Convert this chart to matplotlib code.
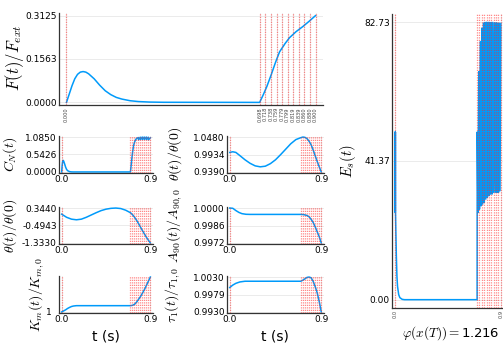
import matplotlib
matplotlib.use('Agg')
import matplotlib.pyplot as plt

plt.rcParams['mathtext.fontset'] = 'cm'
plt.rcParams['font.family'] = 'DejaVu Sans'

# switching times (red dotted lines)
switch_t = [0.0, 0.698, 0.718, 0.738, 0.759, 0.779, 0.799, 0.819, 0.839, 0.860, 0.880, 0.900]

# F(t)/F_ext
f_t = [0, 0.01, 0.02, 0.03, 0.04, 0.05, 0.06, 0.07, 0.08, 0.10, 0.12, 0.14, 0.16, 0.18, 0.20,
       0.23, 0.26, 0.30, 0.35, 0.698, 0.71, 0.724, 0.74, 0.755, 0.77, 0.79, 0.806, 0.83, 0.854,
       0.878, 0.9]
f_val = [0, 0.03, 0.06, 0.085, 0.101, 0.109, 0.111, 0.109, 0.103, 0.085, 0.062, 0.042, 0.028,
         0.018, 0.012, 0.006, 0.003, 0.0012, 0.0004, 0, 0.025, 0.057, 0.10, 0.143, 0.182, 0.212,
         0.233, 0.255, 0.273, 0.293, 0.3125]

# C_N(t)
cn_t = [0, 0.005, 0.01, 0.015, 0.02, 0.03, 0.04, 0.05, 0.06, 0.08, 0.10, 0.12, 0.698, 0.705,
        0.71, 0.72, 0.73, 0.74, 0.75, 0.76, 0.778, 0.780, 0.798, 0.800, 0.818, 0.820, 0.838,
        0.840, 0.859, 0.861, 0.879, 0.881, 0.9]
cn_val = [0, 0.2, 0.33, 0.36, 0.34, 0.25, 0.15, 0.08, 0.04, 0.01, 0.002, 0, 0, 0.2, 0.35, 0.62,
          0.82, 0.93, 1.0, 1.04, 1.07, 1.0, 1.08, 1.01, 1.085, 1.01, 1.085, 1.01, 1.085, 1.01,
          1.08, 1.0, 1.06]

# theta(t)/theta(0)
th_t = [0, 0.03, 0.06, 0.1, 0.15, 0.2, 0.25, 0.3, 0.35, 0.4, 0.45, 0.5, 0.55, 0.6, 0.65, 0.698,
        0.72, 0.74, 0.76, 0.78, 0.8, 0.82, 0.84, 0.86, 0.88, 0.9]
th_val = [1.0, 1.002, 1.0, 0.99, 0.977, 0.966, 0.958, 0.955, 0.957, 0.965, 0.977, 0.993, 1.01,
          1.027, 1.04, 1.046, 1.048, 1.047, 1.043, 1.035, 1.024, 1.008, 0.99, 0.972, 0.955, 0.939]

# second row, left
thd_t = [0, 0.05, 0.1, 0.15, 0.2, 0.25, 0.3, 0.35, 0.4, 0.45, 0.5, 0.55, 0.6, 0.65, 0.698, 0.72,
         0.74, 0.76, 0.78, 0.8, 0.82, 0.84, 0.86, 0.88, 0.9]
thd_val = [0.05, -0.1, -0.19, -0.22, -0.19, -0.1, 0.01, 0.12, 0.22, 0.29, 0.33, 0.344, 0.32,
           0.24, 0.12, 0.02, -0.1, -0.24, -0.4, -0.57, -0.74, -0.9, -1.06, -1.2, -1.333]

# A_90(t)/A_90,0
a_t = [0, 0.03, 0.06, 0.09, 0.12, 0.16, 0.2, 0.698, 0.72, 0.74, 0.76, 0.78, 0.8, 0.82, 0.84,
       0.86, 0.88, 0.9]
a_val = [1.0, 0.99998, 0.9998, 0.99965, 0.99955, 0.9995, 0.99949, 0.99949, 0.99948, 0.99945,
         0.9994, 0.9993, 0.9991, 0.99885, 0.9985, 0.9981, 0.9977, 0.9972]

# K_m(t)/K_m,0
k_t = [0, 0.02, 0.04, 0.06, 0.08, 0.1, 0.12, 0.15, 0.698, 0.72, 0.74, 0.76, 0.78, 0.8, 0.82,
       0.84, 0.86, 0.88, 0.9]
k_val = [1.0, 1.0015, 1.003, 1.005, 1.0065, 1.0078, 1.0085, 1.009, 1.009, 1.0095, 1.011, 1.014,
         1.018, 1.022, 1.027, 1.032, 1.038, 1.044, 1.05]

# tau_1(t)/tau_1,0
tau_t = [0, 0.03, 0.06, 0.1, 0.15, 0.698, 0.72, 0.74, 0.76, 0.78, 0.8, 0.82, 0.84, 0.86, 0.88, 0.9]
tau_val = [1.0, 1.0007, 1.0012, 1.0016, 1.0018, 1.0018, 1.0021, 1.0025, 1.0029, 1.003, 1.0028,
           1.0018, 1.0003, 0.9985, 0.996, 0.993]

# E_s(t)
es_t = [0, 0.001, 0.002, 0.003, 0.006, 0.01, 0.015, 0.02, 0.03, 0.04, 0.06, 0.08, 0.698, 0.699,
        0.705, 0.712, 0.718, 0.725, 0.732, 0.738, 0.745, 0.752, 0.759, 0.765, 0.772, 0.779, 0.785,
        0.792, 0.799, 0.805, 0.812, 0.819, 0.825, 0.832, 0.839, 0.846, 0.853, 0.860, 0.866, 0.873,
        0.880, 0.886, 0.893, 0.900]
es_val = [50, 26, 50, 26, 20, 13, 7, 4, 1.5, 0.6, 0.1, 0, 0, 50, 26, 68, 27, 77, 28, 81, 28.5,
          82.5, 29, 82.7, 30, 82.73, 30.5, 82.73, 31, 82.7, 31.5, 82.7, 31.5, 82.7, 32, 82.6, 32,
          82.6, 32, 82.5, 32, 82.5, 32.5, 82.4]

W, H = 503, 346
fig = plt.figure(figsize=(W / 100, H / 100), dpi=100)

blue = '#009AFA'
tick_fs = 6.5


def add_ax(x0, y0, x1, y1):
    return fig.add_axes([x0 / W, 1 - y1 / H, (x1 - x0) / W, (y1 - y0) / H])


def panel(box, tt, vals, yticks, ylabels, ylim, xticks, xlabels, small_x=False, ypad=1.5):
    ax = add_ax(*box)
    ax.plot(tt, vals, color=blue, lw=1.1, zorder=2)
    for s in switch_t:
        ax.axvline(s, color='#ff2a2a', lw=0.9, alpha=0.55, linestyle=(0, (1, 1)), zorder=3)
    pad = 0.03 * (ylim[1] - ylim[0])
    ax.set_ylim(ylim[0] - pad, ylim[1] + pad)
    ax.set_xlim(-0.027, 0.927)
    ax.set_yticks(yticks)
    ax.set_yticklabels(ylabels, fontsize=tick_fs)
    ax.set_xticks(xticks)
    if small_x:
        ax.set_xticklabels(xlabels, fontsize=3.6, rotation=90, color='#444444')
    else:
        ax.set_xticklabels(xlabels, fontsize=tick_fs)
    ax.tick_params(length=0, pad=1.5)
    ax.tick_params(axis='y', pad=ypad)
    ax.grid(True, color='#e8e8e8', lw=0.6, zorder=0)
    for side in ['top', 'right']:
        ax.spines[side].set_visible(False)
    for side in ['left', 'bottom']:
        ax.spines[side].set_color('#333333')
        ax.spines[side].set_linewidth(0.9)
    return ax


# top panel
panel((59, 13, 323, 105), f_t, f_val, [0, 0.15625, 0.3125], ['0.0000', '0.1563', '0.3125'],
      (0, 0.3125), switch_t, ['%.3f' % s for s in switch_t], small_x=True)

# small panels
x01 = [0, 0.9]
x01l = ['0.0', '0.9']
panel((59, 136, 153, 173), cn_t, cn_val, [0, 0.5426, 1.085], ['0.0000', '0.5426', '1.0850'],
      (0, 1.085), x01, x01l)
panel((227, 136, 324, 173), th_t, th_val, [0.939, 0.9934, 1.048], ['0.9390', '0.9934', '1.0480'],
      (0.939, 1.048), x01, x01l)
panel((59, 207, 153, 244), thd_t, thd_val, [-1.333, -0.4943, 0.344], ['-1.3330', '-0.4943', '0.3440'],
      (-1.333, 0.344), x01, x01l)
panel((227, 207, 324, 244), a_t, a_val, [0.9972, 0.9986, 1.0], ['0.9972', '0.9986', '1.0000'],
      (0.9972, 1.0), x01, x01l)
panel((59, 276, 153, 313), k_t, k_val, [1.0], ['1'], (1.0, 1.05), x01, x01l, ypad=5)
panel((227, 276, 324, 313), tau_t, tau_val, [0.993, 0.9979, 1.003], ['0.9930', '0.9979', '1.0030'],
      (0.993, 1.003), x01, x01l)

# right panel
panel((392, 14, 504, 308), es_t, es_val, [0, 41.365, 82.73], ['0.00', '41.37', '82.73'],
      (0, 82.73), x01, x01l, small_x=True)

# y labels
lab_fs = 10
fig.text(15 / W, 1 - 58 / H, r'$F(t)/F_{ext}$', rotation=90, ha='center', va='center', fontsize=12)
fig.text(10 / W, 1 - 154 / H, r'$C_N(t)$', rotation=90, ha='center', va='center', fontsize=lab_fs)
fig.text(10 / W, 1 - 226 / H, r'$\theta(t)/\theta(0)$', rotation=90, ha='center', va='center', fontsize=lab_fs)
fig.text(37 / W, 1 - 294 / H, r'$K_m(t)/K_{m,0}$', rotation=90, ha='center', va='center', fontsize=lab_fs)
fig.text(175 / W, 1 - 154 / H, r'$\theta(t)/\theta(0)$', rotation=90, ha='center', va='center', fontsize=lab_fs)
fig.text(175 / W, 1 - 226 / H, r'$A_{90}(t)/A_{90,0}$', rotation=90, ha='center', va='center', fontsize=lab_fs)
fig.text(173 / W, 1 - 295 / H, r'$\tau_1(t)/\tau_{1,0}$', rotation=90, ha='center', va='center', fontsize=lab_fs)
fig.text(348 / W, 1 - 161 / H, r'$E_s(t)$', rotation=90, ha='center', va='center', fontsize=lab_fs + 0.5)

# x labels
fig.text(106 / W, 1 - 337 / H, 't (s)', ha='center', va='center', fontsize=10)
fig.text(275 / W, 1 - 337 / H, 't (s)', ha='center', va='center', fontsize=10)
fig.text(451 / W, 1 - 333 / H, r'$\varphi(x(T)) = $1.216', ha='center', va='center', fontsize=9.5)

fig.savefig('out.png', dpi=100)
